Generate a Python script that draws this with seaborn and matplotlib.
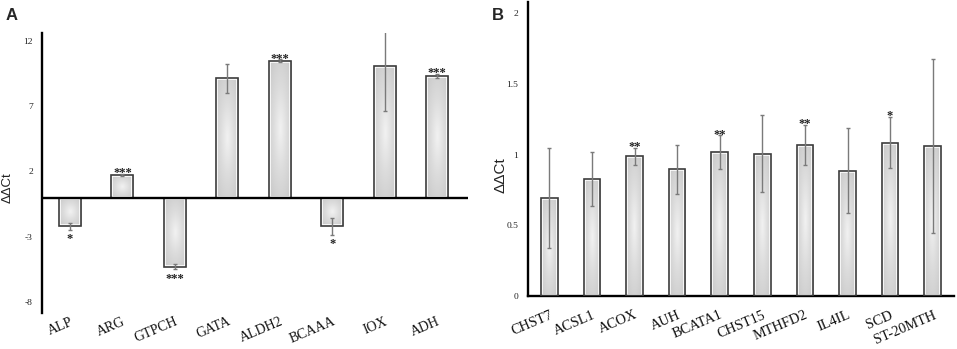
import numpy as np
import pandas as pd
import matplotlib
matplotlib.use("Agg")
import matplotlib.pyplot as plt
from matplotlib.patches import Rectangle
from matplotlib.colors import LinearSegmentedColormap
import seaborn as sns

# ---------------- data ----------------
genes_a = ["ALP", "ARG", "GTPCH", "GATA", "ALDH2", "BCAAA", "IOX", "ADH"]
ddct_a = [-2.2, 1.75, -5.3, 9.15, 10.5, -2.2, 10.1, 9.35]
err_a = [0.25, 0.06, 0.18, 1.1, 0.08, 0.65, 3.45, 0.15]
sig_a = ["*", "***", "***", "", "***", "*", "", "***"]
yticks_a = [12, 7, 2, -3, -8]

genes_b = ["CHST7", "ACSL1", "ACOX", "AUH", "BCATA1", "CHST15", "MTHFD2",
           "IL4IL", "SCD", "ST-20MTH"]
ddct_b = [0.695, 0.827, 0.989, 0.897, 1.015, 1.006, 1.069, 0.886, 1.084, 1.062]
err_b = [0.353, 0.19, 0.06, 0.173, 0.12, 0.27, 0.14, 0.30, 0.18, 0.615]
sig_b = ["", "", "**", "", "**", "", "**", "", "*", ""]
yticks_b = [0, 0.5, 1, 1.5, 2]

sns.set_theme(style="white")
plt.rcParams["font.family"] = ["Liberation Serif", "DejaVu Serif"]

W, H = 957, 349
fig = plt.figure(figsize=(W / 100, H / 100), dpi=100)


def px_axes(l, t, r, b):
    return fig.add_axes([l / W, 1 - b / H, (r - l) / W, (b - t) / H])


axA = px_axes(42, 33, 468, 313)
axB = px_axes(528, 2, 954, 296)

EDGE = "#3c3c3c"
GRAD = LinearSegmentedColormap.from_list("bargrad", ["#f2f2f2", "#dcdcdc", "#cbcbcb"])


def gradient_bars(ax):
    yy, xx = np.mgrid[-1:1:60j, -1:1:40j]
    r = np.clip(np.sqrt(xx ** 2 + yy ** 2) / 1.25, 0, 1)
    for p in list(ax.patches):
        bb = p.get_bbox()
        x0, x1 = min(bb.x0, bb.x1), max(bb.x0, bb.x1)
        y0, y1 = min(bb.y0, bb.y1), max(bb.y0, bb.y1)
        p.set_facecolor("none")
        p.set_edgecolor(EDGE)
        p.set_linewidth(1.2)
        p.set_zorder(3)
        im = ax.imshow(r, extent=[x0, x1, y0, y1], aspect="auto",
                       cmap=GRAD, vmin=0, vmax=1,
                       interpolation="bilinear", zorder=2)
        im.set_clip_path(p)
        inner = Rectangle((p.get_x(), p.get_y()), p.get_width(), p.get_height(),
                          facecolor="none", edgecolor="white", linewidth=2.6,
                          zorder=2.5)
        ax.add_patch(inner)
        inner.set_clip_path(p)


def panel(ax, genes, vals, errs, sig, yticks, ylim, xlim, width,
          lab_size, ylab_size, ylab_xy, xpad, ypad, tickfmt):
    df = pd.DataFrame({"gene": genes, "ddct": vals})
    sns.barplot(data=df, x="gene", y="ddct", ax=ax, width=width,
                errorbar=None, color="#dddddd", saturation=1)
    gradient_bars(ax)
    xs = np.arange(len(genes))
    ax.errorbar(xs, vals, yerr=errs, fmt="none", ecolor="#7a7a7a",
                elinewidth=1.0, capsize=1.6, capthick=1.0, zorder=4)
    for x, v, e, s in zip(xs, vals, errs, sig):
        if not s:
            continue
        if v >= 0:
            ax.annotate(s, (x, v + e), xytext=(0, -1.5), textcoords="offset points",
                        ha="center", va="baseline", fontsize=9,
                        fontweight="bold", color="#222222", zorder=5)
        else:
            ax.annotate(s, (x, v - e), xytext=(0, -9.0), textcoords="offset points",
                        ha="center", va="baseline", fontsize=9,
                        fontweight="bold", color="#222222", zorder=5)
    ax.set_xlim(*xlim)
    ax.set_ylim(*ylim)
    ax.set_yticks(yticks)
    ax.set_yticklabels([tickfmt(t) for t in yticks], fontsize=6.8, color="#222222")
    ax.tick_params(axis="y", length=0, pad=ypad)
    ax.tick_params(axis="x", length=0, pad=xpad)
    ax.set_xticks(xs)
    ax.set_xticklabels(genes, rotation=23, ha="right", va="top",
                       rotation_mode="anchor", fontsize=lab_size, color="#111111")
    ax.set_xlabel("")
    ax.set_ylabel("ΔΔCt", fontsize=ylab_size, family=["Liberation Sans", "DejaVu Sans"],
                  color="#222222")
    ax.yaxis.set_label_coords(*ylab_xy)
    for s in ["top", "right", "bottom"]:
        ax.spines[s].set_visible(False)
    ax.spines["left"].set_color("black")
    ax.spines["left"].set_linewidth(1.7)
    ax.set_facecolor("white")
    ax.grid(False)


panel(axA, genes_a, ddct_a, err_a, sig_a, yticks_a, (-8.84, 12.61), (-0.534, 7.59),
      0.42, 10, 9.5, (-0.066, 0.446), 1.5, 6.5, lambda t: f"{t:g}")
axA.axhline(0, color="black", linewidth=1.7, zorder=6)

panel(axB, genes_b, ddct_b, err_b, sig_b, yticks_b, (0, 2.078), (-0.5, 9.5),
      0.39, 10.3, 11, (-0.049, 0.41), 9, 7, lambda t: f"{t:g}")
axB.spines["bottom"].set_visible(True)
axB.spines["bottom"].set_color("black")
axB.spines["bottom"].set_linewidth(1.7)

fig.text(6 / W, 1 - 15 / H, "A", fontsize=12, fontweight="bold",
         family=["Liberation Sans", "DejaVu Sans"], va="center", ha="left")
fig.text(492 / W, 1 - 15 / H, "B", fontsize=12, fontweight="bold",
         family=["Liberation Sans", "DejaVu Sans"], va="center", ha="left")

fig.savefig("out.png", dpi=100, facecolor="white")
